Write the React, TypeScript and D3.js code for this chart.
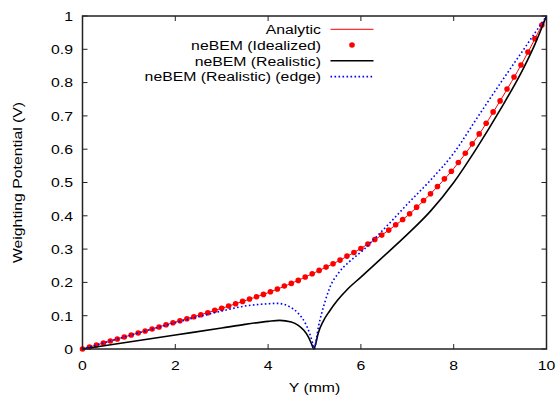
import React from "react";
import * as d3 from "d3";

// ---- data ----
const xTicks = [0, 2, 4, 6, 8, 10];
const yTicks = [0, 0.1, 0.2, 0.3, 0.4, 0.5, 0.6, 0.7, 0.8, 0.9, 1];
const yTickLabels = ["0", "0.1", "0.2", "0.3", "0.4", "0.5", "0.6", "0.7", "0.8", "0.9", "1"];

const analyticX = [0, 0.5, 1, 1.5, 2, 2.5, 3, 3.5, 4, 4.5, 5, 5.5, 6, 6.5, 7, 7.5, 8, 8.5, 9, 9.5, 10];
const analyticY = [0, 0.02, 0.04, 0.06, 0.081, 0.101, 0.122, 0.145, 0.169, 0.197, 0.229, 0.263, 0.302, 0.347, 0.4, 0.466, 0.542, 0.635, 0.745, 0.865, 1.0];

const idealX = [0, 0.15, 0.3, 0.45, 0.6, 0.75, 0.9, 1.05, 1.2, 1.35, 1.5, 1.65, 1.8, 1.95, 2.1, 2.25, 2.4, 2.55, 2.7, 2.85, 3.0, 3.15, 3.3, 3.45, 3.6, 3.75, 3.9, 4.05, 4.2, 4.35, 4.5, 4.65, 4.8, 4.95, 5.1, 5.25, 5.4, 5.55, 5.7, 5.85, 6.0, 6.15, 6.3, 6.45, 6.6, 6.75, 6.9, 7.05, 7.2, 7.35, 7.5, 7.65, 7.8, 7.95, 8.1, 8.25, 8.4, 8.55, 8.7, 8.85, 9.0, 9.15, 9.3, 9.45, 9.6, 9.75, 9.9];
const idealY = [0, 0.006, 0.012, 0.018, 0.024, 0.03, 0.036, 0.042, 0.048, 0.054, 0.06, 0.066, 0.073, 0.079, 0.085, 0.091, 0.097, 0.103, 0.109, 0.116, 0.122, 0.129, 0.136, 0.143, 0.15, 0.157, 0.164, 0.172, 0.18, 0.189, 0.197, 0.206, 0.216, 0.226, 0.236, 0.246, 0.256, 0.267, 0.279, 0.29, 0.302, 0.315, 0.329, 0.342, 0.357, 0.373, 0.389, 0.406, 0.426, 0.446, 0.466, 0.488, 0.511, 0.534, 0.56, 0.588, 0.616, 0.646, 0.678, 0.712, 0.745, 0.781, 0.817, 0.853, 0.892, 0.932, 0.973];

const realX = [0, 1, 2, 3, 3.5, 4, 4.25, 4.5, 4.65, 4.77, 4.87, 4.94, 4.985, 5.03, 5.08, 5.19, 5.33, 5.5, 5.7, 6.0, 6.4, 7, 7.5, 8, 8.5, 9, 9.5, 9.75, 10];
const realY = [0, 0.021, 0.042, 0.063, 0.074, 0.083, 0.086, 0.081, 0.071, 0.056, 0.036, 0.014, 0, 0.018, 0.047, 0.084, 0.115, 0.147, 0.178, 0.216, 0.267, 0.344, 0.414, 0.5, 0.604, 0.718, 0.842, 0.915, 1.0];

const edgeX = [0, 1, 2, 2.5, 3, 3.5, 3.9, 4.2, 4.45, 4.65, 4.8, 4.9, 4.96, 5.0, 5.04, 5.09, 5.15, 5.24, 5.34, 5.5, 5.75, 6.05, 6.3, 6.7, 7, 7.5, 8, 8.5, 9, 9.5, 10];
const edgeY = [0, 0.04, 0.079, 0.097, 0.114, 0.129, 0.135, 0.137, 0.128, 0.107, 0.078, 0.045, 0.018, 0, 0.03, 0.07, 0.105, 0.148, 0.188, 0.225, 0.262, 0.297, 0.332, 0.39, 0.435, 0.507, 0.588, 0.693, 0.797, 0.898, 1.0];

const legendLabels = ["Analytic", "neBEM (Idealized)", "neBEM (Realistic)", "neBEM (Realistic) (edge)"];

// ---- layout ----
const W = 557, H = 396;
const L = 82.5, R = 546.5, T = 16, B = 349;
const FS = 13.5;
const SX = 1.17;
const FONT = "'Liberation Sans', Arial, Helvetica, sans-serif";

function Txt({ x, y, anchor = "start", children, rotate = 0 }: any) {
  return (
    <text
      transform={`translate(${x},${y}) rotate(${rotate}) scale(${SX},1)`}
      textAnchor={anchor}
      fontFamily={FONT}
      fontSize={FS}
      fill="#000"
    >
      {children}
    </text>
  );
}

export default function App() {
  const x = d3.scaleLinear().domain([0, 10]).range([L, R]);
  const y = d3.scaleLinear().domain([0, 1]).range([B, T]);

  const mk = (xs: number[], ys: number[], curve: any) =>
    d3
      .line<number>()
      .x((_, i) => x(xs[i]))
      .y((_, i) => y(ys[i]))
      .curve(curve)(xs) as string;

  const analyticPath = mk(analyticX, analyticY, d3.curveMonotoneX);
  const realPath = mk(realX, realY, d3.curveMonotoneX);
  const edgePath = mk(edgeX, edgeY, d3.curveMonotoneX);

  const tl = 5;
  const legRows = [29.3, 45, 60.8, 76.6];
  const legTextX = 321;
  const legL = 330.5, legR = 373.5;

  return (
    <svg width={W} height={H} style={{ position: "absolute", left: 0, top: 0 }}>
      <rect x={0} y={0} width={W} height={H} fill="#fff" />
      {/* ticks */}
      <g stroke="#222" strokeWidth={1}>
        {xTicks.map((t) => (
          <g key={"xt" + t}>
            <line x1={x(t)} x2={x(t)} y1={B} y2={B - tl} />
            <line x1={x(t)} x2={x(t)} y1={T} y2={T + tl} />
          </g>
        ))}
        {yTicks.map((t) => (
          <g key={"yt" + t}>
            <line x1={L} x2={L + tl} y1={y(t)} y2={y(t)} />
            <line x1={R} x2={R - tl} y1={y(t)} y2={y(t)} />
          </g>
        ))}
      </g>
      {/* tick labels */}
      {xTicks.map((t) => (
        <Txt key={"xl" + t} x={x(t)} y={370} anchor="middle">
          {String(t)}
        </Txt>
      ))}
      {yTicks.map((t, i) => (
        <Txt key={"yl" + t} x={73} y={y(t) + 4.8} anchor="end">
          {yTickLabels[i]}
        </Txt>
      ))}
      {/* axis titles */}
      <Txt x={(L + R) / 2} y={391.5} anchor="middle">
        Y (mm)
      </Txt>
      <Txt x={22} y={(T + B) / 2} anchor="middle" rotate={-90}>
        Weighting Potential (V)
      </Txt>

      {/* series */}
      <path d={analyticPath} fill="none" stroke="#ff0000" strokeWidth={1} />
      <g fill="#ff0000">
        {idealX.map((v, i) => (
          <circle key={"d" + i} cx={x(v)} cy={y(idealY[i])} r={2.8} />
        ))}
      </g>
      <path d={realPath} fill="none" stroke="#000" strokeWidth={1.6} />
      <path d={edgePath} fill="none" stroke="#0000ff" strokeWidth={1.6} strokeDasharray="1.6,2.4" />

      {/* legend */}
      {legendLabels.map((lab, i) => (
        <Txt key={"lg" + i} x={legTextX} y={legRows[i] + 4.8} anchor="end">
          {lab}
        </Txt>
      ))}
      <line x1={legL} x2={legR} y1={legRows[0]} y2={legRows[0]} stroke="#ff0000" strokeWidth={1} />
      <circle cx={(legL + legR) / 2} cy={legRows[1]} r={2.8} fill="#ff0000" />
      <line x1={legL} x2={legR} y1={legRows[2]} y2={legRows[2]} stroke="#000" strokeWidth={1.6} />
      <line x1={legL} x2={legR} y1={legRows[3]} y2={legRows[3]} stroke="#0000ff" strokeWidth={1.6} strokeDasharray="1.6,2.4" />

      {/* frame */}
      <rect x={L} y={T} width={R - L} height={B - T} fill="none" stroke="#222" strokeWidth={1.5} />
    </svg>
  );
}
